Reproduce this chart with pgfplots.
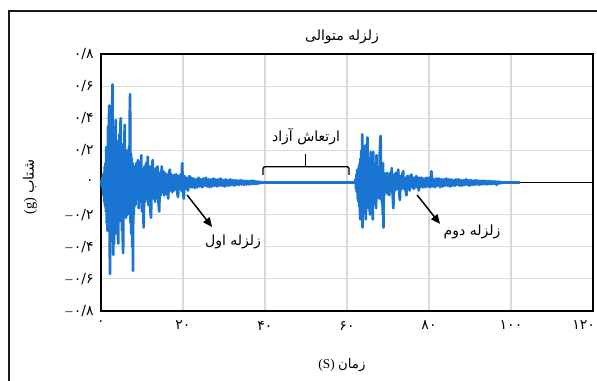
\documentclass[border=0pt]{standalone}
\usepackage{fontspec}
\setmainfont{Liberation Serif}
\newfontfamily\fa[Script=Arabic]{DejaVu Sans}
\TeXXeTstate=1
\usepackage{pgfplots}
\pgfplotsset{compat=1.18}
\usetikzlibrary{arrows.meta}
\definecolor{quakeblue}{RGB}{26,116,210}
\definecolor{gridgray}{RGB}{217,217,217}
\newcommand{\mn}{{\rmfamily\char"2013\kern1pt}}

\begin{document}
\begin{tikzpicture}
\useasboundingbox (0pt,0pt) rectangle (447.75pt,285pt);
% chart area frame
\draw[line width=1.5pt, black!90] (6.75pt,-8pt) -- (6.75pt,276.75pt) -- (460pt,276.75pt);
% title and axis labels
\node[font=\fa\fontsize{10.5}{12}\selectfont] at (256.5pt,257pt) {\beginR زلزله متوالی\endR};
\node[font=\fontsize{10}{12}\selectfont] at (256.5pt,11.25pt) {(S)\ {\fa زمان}};
\node[font=\fontsize{10.8}{12}\selectfont, rotate=90] at (22.5pt,144.75pt) {(g)\ {\fa شتاب}};

\begin{axis}[
  at={(75.75pt,51.75pt)}, anchor=south west,
  scale only axis, width=369pt, height=192.75pt,
  xmin=0, xmax=120, ymin=-0.8, ymax=0.8,
  xtick={0,20,40,60,80,100,120},
  ytick={-0.8,-0.6,-0.4,-0.2,0,0.2,0.4,0.6,0.8},
  xticklabels={۰,۲۰,۴۰,۶۰,۸۰,۱۰۰,\makebox[0pt][r]{۱۲۰\kern-1.5pt}},
  yticklabels={\mn۰/۸,\mn۰/۶,\mn۰/۴,\mn۰/۲,۰,۰/۲,۰/۴,۰/۶,۰/۸},
  ticklabel style={font=\fa\fontsize{10.5}{12}\selectfont},
  xticklabel style={yshift=-4pt},
  yticklabel style={xshift=-2pt},
  grid=major,
  major grid style={draw=gridgray, line width=0.8pt},
  axis line style={black, line width=1.1pt},
  tick style={draw=none},
  clip=false,
]
% horizontal axis line at zero
\addplot[black, line width=1.1pt] coordinates {(0,0) (120,0)};

% acceleration record: first quake, free vibration, second quake
\addplot[quakeblue, line width=2pt, line join=round] coordinates {
(0,0) (0.1,0.01) (0.2,-0.02) (0.3,0.03) (0.4,-0.04) (0.5,0.05) (0.6,-0.08) (0.7,0.06) (0.8,-0.12) (0.9,0.10)
(1.0,-0.15) (1.1,0.12) (1.2,-0.18) (1.3,0.22) (1.4,-0.25) (1.5,0.18) (1.6,-0.30) (1.7,0.35) (1.8,-0.28) (1.9,0.30)
(2.0,0.48) (2.1,-0.35) (2.2,-0.57) (2.3,0.25) (2.4,-0.30) (2.5,0.35) (2.6,-0.22) (2.7,0.42) (2.8,0.61) (2.9,-0.30)
(3.0,-0.45) (3.1,0.28) (3.2,-0.38) (3.3,0.20) (3.4,-0.25) (3.5,0.30) (3.6,0.39) (3.7,-0.28) (3.8,0.22) (3.9,-0.32)
(4.0,0.18) (4.1,-0.30) (4.2,-0.38) (4.3,0.26) (4.4,-0.20) (4.5,0.30) (4.6,-0.24) (4.7,0.32) (4.8,0.40) (4.9,-0.22)
(5.0,0.20) (5.1,-0.30) (5.2,0.18) (5.3,-0.35) (5.4,-0.44) (5.5,0.24) (5.6,-0.20) (5.7,0.28) (5.8,0.36) (5.9,-0.18)
(6.0,0.16) (6.1,-0.22) (6.2,0.20) (6.3,-0.15) (6.4,0.14) (6.5,-0.20) (6.6,0.12) (6.7,-0.16) (6.8,0.22) (6.9,-0.19)
(7.0,0.40) (7.1,0.55) (7.2,-0.25) (7.3,0.18) (7.4,-0.32) (7.5,0.15) (7.6,-0.40) (7.7,0.12) (7.8,-0.55) (7.9,0.10)
(8.0,-0.20) (8.2,0.10) (8.4,-0.14) (8.6,0.12) (8.8,-0.10) (9.0,0.14) (9.2,-0.16) (9.4,0.10) (9.6,-0.12) (9.8,0.17)
(10.0,-0.18) (10.2,0.08) (10.4,-0.28) (10.6,0.10) (10.8,-0.12) (11.0,0.12) (11.2,-0.10) (11.4,0.16) (11.6,-0.14) (11.8,0.10)
(12.0,-0.16) (12.2,-0.22) (12.4,0.08) (12.6,0.14) (12.8,-0.10) (13.0,0.08) (13.2,-0.12) (13.4,0.09) (13.6,-0.08) (13.8,0.10)
(14.0,-0.12) (14.2,-0.18) (14.4,0.06) (14.6,-0.08) (14.8,0.10) (15.0,-0.06) (15.2,0.07) (15.4,-0.08) (15.6,0.06) (15.8,-0.07)
(16.0,0.05) (16.2,-0.06) (16.4,-0.10) (16.6,0.06) (16.8,0.08) (17.0,-0.05) (17.2,0.05) (17.4,-0.06) (17.6,0.04) (17.8,-0.05)
(18.0,0.05) (18.2,-0.04) (18.4,0.05) (18.6,-0.07) (18.8,-0.09) (19.0,0.04) (19.2,-0.04) (19.4,0.05) (19.6,-0.05) (19.8,0.12)
(20.0,-0.06) (20.2,-0.10) (20.4,0.04) (20.6,-0.04) (20.8,0.03) (21.0,-0.04) (21.2,-0.05) (21.4,0.03) (21.6,0.04) (21.8,-0.03)
(22.0,0.03) (22.3,-0.03) (22.6,0.025) (22.9,-0.035) (23.2,0.02) (23.5,-0.03) (23.8,0.03) (24.1,-0.025) (24.4,0.02) (24.7,-0.03)
(25.0,0.025) (25.3,-0.02) (25.6,0.03) (25.9,-0.025) (26.2,0.02) (26.5,-0.03) (26.8,0.02) (27.1,-0.025) (27.4,0.025) (27.7,-0.02)
(28.0,0.02) (28.3,-0.025) (28.6,0.02) (28.9,-0.02) (29.2,0.025) (29.5,-0.02) (29.8,0.015) (30.1,-0.025) (30.4,0.02) (30.7,-0.02)
(31.0,0.015) (31.3,-0.02) (31.6,0.02) (31.9,-0.015) (32.2,0.015) (32.5,-0.02) (32.8,0.015) (33.1,-0.015) (33.4,0.012) (33.7,-0.015)
(34.0,0.015) (34.3,-0.012) (34.6,0.012) (34.9,-0.015) (35.2,0.01) (35.5,-0.012) (35.8,0.01) (36.1,-0.012) (36.4,0.01) (36.7,-0.01)
(37.0,0.012) (37.3,-0.01) (37.6,0.008) (37.9,-0.01) (38.2,0.006) (38.5,-0.006) (38.8,0.004) (39.1,-0.003) (39.4,0)
(62.0,0)
(62.1,0.02) (62.2,-0.04) (62.3,0.05) (62.4,-0.06) (62.5,0.08) (62.6,-0.10) (62.7,0.07) (62.8,-0.12) (62.9,0.10)
(63.0,-0.15) (63.1,0.12) (63.2,-0.23) (63.3,0.15) (63.4,-0.12) (63.5,0.20) (63.6,-0.18) (63.7,0.30) (63.8,-0.28) (63.9,0.14)
(64.0,-0.16) (64.1,0.12) (64.2,-0.14) (64.3,0.18) (64.4,0.23) (64.5,-0.15) (64.6,-0.23) (64.7,0.12) (64.8,-0.14) (64.9,0.20)
(65.0,0.28) (65.1,-0.12) (65.2,0.14) (65.3,-0.16) (65.4,0.10) (65.5,-0.14) (65.6,-0.20) (65.7,0.12) (65.8,0.19) (65.9,-0.10)
(66.0,0.12) (66.1,-0.14) (66.2,0.15) (66.3,-0.23) (66.4,0.19) (66.5,-0.10) (66.6,0.10) (66.7,-0.12) (66.8,0.08) (66.9,-0.10)
(67.0,0.12) (67.1,-0.16) (67.2,0.17) (67.3,-0.08) (67.4,0.07) (67.5,-0.09) (67.6,0.08) (67.7,-0.06) (67.8,0.10) (67.9,-0.10)
(68.0,0.18) (68.1,0.26) (68.2,0.29) (68.3,-0.08) (68.4,0.06) (68.5,-0.12) (68.6,0.05) (68.7,-0.20) (68.8,0.12) (68.9,-0.28)
(69.0,0.06) (69.1,-0.08) (69.2,0.05) (69.3,-0.06) (69.4,0.05) (69.5,-0.05) (69.7,0.06) (69.9,-0.07)
(70.1,0.05) (70.3,-0.08) (70.5,0.06) (70.7,-0.05) (70.9,0.09) (71.1,-0.06) (71.3,-0.16) (71.5,0.05) (71.7,-0.05) (71.9,0.06)
(72.1,-0.04) (72.3,0.05) (72.5,0.08) (72.7,-0.05) (72.9,-0.11) (73.1,0.04) (73.3,-0.04) (73.5,0.05) (73.7,0.07) (73.9,-0.04)
(74.1,0.03) (74.3,-0.05) (74.5,-0.08) (74.7,0.04) (74.9,-0.03) (75.1,0.04) (75.3,-0.05) (75.5,0.03) (75.7,0.05) (75.9,-0.03)
(76.1,0.03) (76.3,-0.04) (76.5,0.03) (76.7,-0.03) (76.9,0.04) (77.1,-0.03) (77.3,0.03) (77.5,-0.05) (77.7,0.03) (77.9,-0.03)
(78.2,0.03) (78.5,-0.03) (78.8,0.025) (79.1,-0.03) (79.4,0.03) (79.7,-0.025) (80.0,0.03) (80.3,-0.03) (80.6,0.07) (80.9,-0.025)
(81.2,0.02) (81.5,-0.03) (81.8,0.025) (82.1,-0.02) (82.4,0.025) (82.7,-0.03) (83.0,0.02) (83.3,-0.025) (83.6,0.02) (83.9,-0.02)
(84.2,0.025) (84.5,-0.02) (84.8,0.02) (85.1,-0.025) (85.4,0.02) (85.7,-0.02) (86.0,0.015) (86.3,-0.02) (86.6,0.02) (86.9,-0.015)
(87.2,0.02) (87.5,-0.02) (87.8,0.015) (88.1,-0.02) (88.4,0.015) (88.7,-0.015) (89.0,0.02) (89.3,-0.015) (89.6,0.015) (89.9,-0.02)
(90.2,0.015) (90.5,-0.015) (90.8,0.012) (91.1,-0.015) (91.4,0.015) (91.7,-0.012) (92.0,0.012) (92.3,-0.015) (92.6,0.01) (92.9,-0.012)
(93.2,0.012) (93.5,-0.01) (93.8,0.01) (94.1,-0.012) (94.4,0.01) (94.7,-0.01) (95.0,0.008) (95.3,-0.01) (95.6,0.008) (95.9,-0.008)
(96.2,0.006) (96.5,-0.015) (96.8,0.006) (97.1,-0.006) (97.4,0.004) (97.7,-0.004) (98.0,0)
(102.2,0)
};

% free vibration bracket
\draw[line width=1pt, rounded corners=1.5pt] (axis cs:39.5,0.047) -- (axis cs:39.5,0.098) -- (axis cs:60.5,0.098) -- (axis cs:60.5,0.047);
\draw[line width=1pt] (axis cs:49.8,0.098) -- (axis cs:49.8,0.177);
\node[fill=white, inner sep=2pt, font=\fa\fontsize{10.5}{12}\selectfont] at (axis cs:50,0.283) {\beginR ارتعاش آزاد\endR};

% first and second quake callouts
\draw[-{Triangle[length=7pt,width=6pt]}, line width=1.1pt] (axis cs:21.0,-0.078) -- (axis cs:27.1,-0.277);
\node[fill=white, inner sep=2pt, font=\fa\fontsize{10.5}{12}\selectfont] at (axis cs:32.2,-0.37) {\beginR زلزله اول\endR};
\draw[-{Triangle[length=7pt,width=6pt]}, line width=1.1pt] (axis cs:77.1,-0.078) -- (axis cs:82.7,-0.258);
\node[fill=white, inner sep=2pt, font=\fa\fontsize{10.5}{12}\selectfont] at (axis cs:90.5,-0.308) {\beginR زلزله دوم\endR};
\end{axis}
\end{tikzpicture}
\end{document}
